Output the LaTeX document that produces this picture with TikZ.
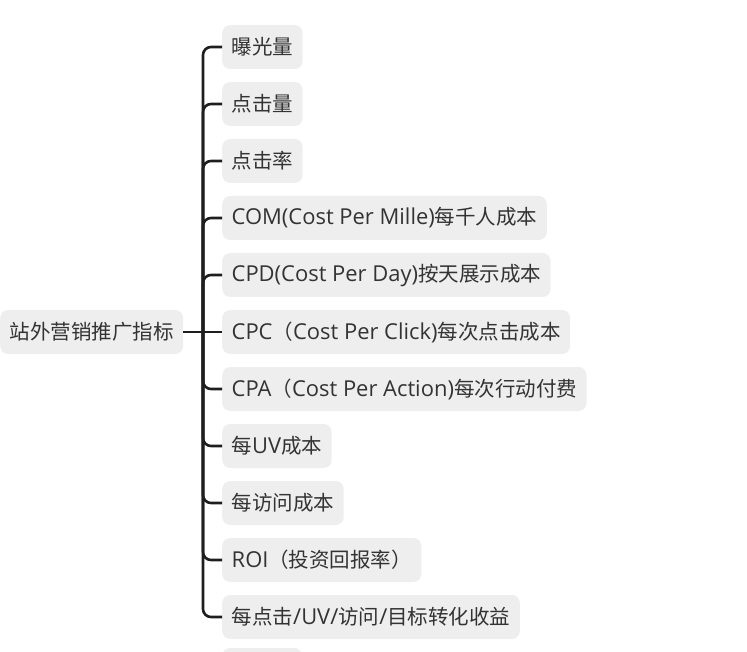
\documentclass[tikz,border=0pt]{standalone}
\usepackage{fontspec}
\setmainfont{Noto Sans CJK SC}
\newfontfamily\latinfont[Scale=1.07]{Open Sans}
\newcommand{\lat}[1]{{\latinfont #1}}
\usepackage{xcolor}
\usepackage{tikz}
\usetikzlibrary{positioning}
\definecolor{topicfill}{HTML}{EEEEEE}
\definecolor{topicink}{HTML}{333333}
\definecolor{branchink}{HTML}{1E1E1E}
\tikzset{
  topic/.style={fill=topicfill,rounded corners=8pt,text=topicink,font=\fontsize{20.5}{23}\selectfont,
    minimum height=44pt,inner xsep=9.5pt,inner ysep=0pt,anchor=west},
  branch/.style={draw=branchink,line width=2.6pt,rounded corners=8pt}
}
\begin{document}
\begin{tikzpicture}[x=1pt,y=-1pt]
  \useasboundingbox (0,0) rectangle (747,652);
  \node[topic] (root) at (0,332) {站外营销推广指标};
  \node[topic] (expo) at (222,47) {曝光量};
  \node[topic] (clicks) at (222,104) {点击量};
  \node[topic] (ctr) at (222,161) {点击率};
  \node[topic] (cpm) at (222,218) {\lat{COM(Cost Per Mille)}每千人成本};
  \node[topic] (cpd) at (222,275) {\lat{CPD(Cost Per Day)}按天展示成本};
  \node[topic] (cpc) at (222,332) {\lat{CPC}（\lat{Cost Per Click)}每次点击成本};
  \node[topic] (cpa) at (222,389) {\lat{CPA}（\lat{Cost Per Action)}每次行动付费};
  \node[topic] (peruv) at (222,446) {每\lat{UV}成本};
  \node[topic] (pervisit) at (222,503) {每访问成本};
  \node[topic] (roi) at (222,560) {\lat{ROI}（投资回报率）};
  \node[topic] (gain) at (222,617) {每点击\lat{/UV/}访问\lat{/}目标转化收益};
  \node[topic,minimum width=80pt] (next) at (222,670) {};
  % trunk and branches
  \coordinate (hub) at (203,332);
  \draw[branch] (root.east) -- (cpc.west);
  \draw[branch] (hub) |- (expo.west);
  \draw[branch] (hub) |- (clicks.west);
  \draw[branch] (hub) |- (ctr.west);
  \draw[branch] (hub) |- (cpm.west);
  \draw[branch] (hub) |- (cpd.west);
  \draw[branch] (hub) |- (cpa.west);
  \draw[branch] (hub) |- (peruv.west);
  \draw[branch] (hub) |- (pervisit.west);
  \draw[branch] (hub) |- (roi.west);
  \draw[branch] (hub) |- (gain.west);
\end{tikzpicture}
\end{document}
